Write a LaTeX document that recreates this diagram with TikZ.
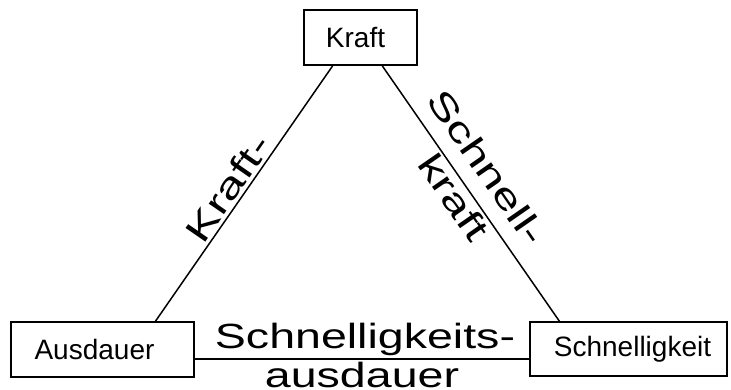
\documentclass[tikz,border=0pt]{standalone}
\usepackage{fontspec}
\setmainfont{Liberation Sans}
\usetikzlibrary{calc}
\tikzset{
  box/.style={draw, line width=1.8pt, inner sep=0pt, anchor=center,
    font=\fontsize{28}{32}\selectfont},
  link/.style={line width=1.5pt},
  edgelabel/.style={inner sep=0pt, font=\fontsize{35}{40}\selectfont},
}
\newcommand{\wide}[1]{\scalebox{1.33}[1]{#1}}
\newcommand{\wider}[1]{\scalebox{1.42}[1]{#1}}
\begin{document}
\begin{tikzpicture}[x=1pt,y=-1pt]
\useasboundingbox (0,0) rectangle (731,389);
% the three corner boxes
\node[box, minimum width=113pt, minimum height=55pt] (kraft) at (360.5,37.5) {Kraft\hspace*{10pt}};
\node[box, minimum width=183pt, minimum height=55pt] (ausdauer) at (102.5,349.5) {Ausdauer\hspace*{16pt}};
\node[box, minimum width=197pt, minimum height=54pt] (schnell) at (628.5,349) {\hspace*{8pt}Schnelligkeit};
% edges of the triangle
\draw[link] ($(kraft.south west)!0.257!(kraft.south east)$) -- ($(ausdauer.north west)!0.787!(ausdauer.north east)$);
\draw[link] ($(kraft.south west)!0.69!(kraft.south east)$) -- ($(schnell.north west)!0.152!(schnell.north east)$);
\coordinate (hl) at ($(ausdauer.north east)!0.67!(ausdauer.south east)$);
\draw[link] (hl) -- (hl -| schnell.west);
% edge labels
\node[edgelabel, rotate=55.3] (lk) at (228,188) {\wider{Kraft-}};
\node[edgelabel, rotate=-55.3] (ls) at (487,167) {\wider{Schnell-}};
\node[edgelabel, rotate=-55.3] (lsk) at (454,197) {\wider{kraft}};
\node[edgelabel, anchor=base] (lsa) at (365,348) {\wide{Schnelligkeits-}};
\node[edgelabel, anchor=base] (lsb) at (362,387) {\wide{ausdauer}};
\end{tikzpicture}
\end{document}
